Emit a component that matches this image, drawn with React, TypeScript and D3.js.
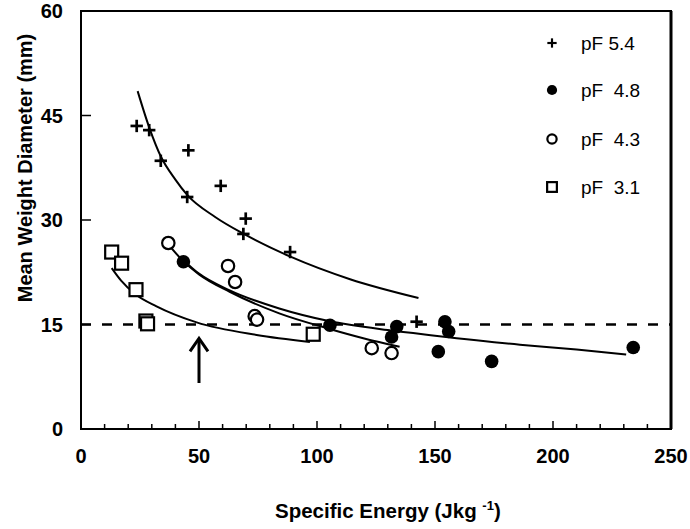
import React from "react";
import * as d3 from "d3";

// ---- data ----
const xTicks = [0, 50, 100, 150, 200, 250];
const yTicks = [0, 15, 30, 45, 60];
const xMinorTicks = d3.range(10, 250, 10);

const pf54X = [23.6, 28.9, 33.8, 45.5, 45.0, 59.2, 69.8, 68.8, 88.6, 142.2];
const pf54Y = [43.5, 42.9, 38.5, 40.0, 33.3, 34.9, 30.2, 28.0, 25.4, 15.4];

const pf48X = [43.4, 105.5, 133.8, 131.6, 154.2, 155.8, 151.4, 174.0, 234.0];
const pf48Y = [24.0, 14.9, 14.7, 13.2, 15.4, 14.0, 11.1, 9.7, 11.7];

const pf43X = [37.0, 62.3, 65.3, 73.6, 74.6, 123.2, 131.6];
const pf43Y = [26.7, 23.4, 21.1, 16.2, 15.7, 11.6, 10.9];

const pf31X = [13.0, 17.2, 23.3, 27.5, 28.2, 98.4];
const pf31Y = [25.4, 23.8, 20.0, 15.5, 15.1, 13.6];

// fitted curves, points
const fit54X = [24, 29, 34, 40, 45, 57, 69, 89, 114, 143];
const fit54Y = [48.5, 43.2, 39.0, 35.8, 33.6, 30.4, 28.0, 24.7, 21.5, 18.8];

const fit48X = [43.5, 50, 63, 84, 105, 130, 150, 186, 210, 231];
const fit48Y = [24.2, 22.3, 19.9, 17.3, 15.5, 14.2, 13.4, 12.1, 11.4, 10.7];

const fit43X = [37.5, 43, 50, 63, 84, 105, 120, 135];
const fit43Y = [26.3, 24.2, 22.2, 19.7, 16.6, 14.4, 13.0, 11.8];

const fit31X = [13, 17, 23.2, 32, 49, 74.4, 97];
const fit31Y = [23.1, 21.3, 19.3, 17.6, 15.3, 13.5, 12.5];

const refLineY = 15;
const arrowX = 50;
const arrowTipY = 13.0;
const arrowBaseY = 6.6;

const legendLabels = ["pF 5.4", "pF  4.8", "pF  4.3", "pF  3.1"];
const legendKinds = ["plus", "dot", "circle", "square"];

// ---- layout ----
const W = 690;
const H = 529;
const left = 81;
const right = 671;
const top = 11;
const bottom = 429;

const x = d3.scaleLinear().domain([0, 250]).range([left, right]);
const y = d3.scaleLinear().domain([0, 60]).range([bottom, top]);

const FONT = "'Liberation Sans', Arial, Helvetica, sans-serif";

function Marker({ kind, cx, cy, s }: { kind: string; cx: number; cy: number; s: number }) {
  if (kind === "plus") {
    const h = 6.2 * s;
    return (
      <g stroke="#000" strokeWidth={2.7 * Math.max(s, 0.8)}>
        <line x1={cx - h} x2={cx + h} y1={cy} y2={cy} />
        <line x1={cx} x2={cx} y1={cy - h} y2={cy + h} />
      </g>
    );
  }
  if (kind === "dot") return <circle cx={cx} cy={cy} r={6.8 * s} fill="#000" />;
  if (kind === "circle")
    return <circle cx={cx} cy={cy} r={6.2 * s} fill="#fff" stroke="#000" strokeWidth={2.2} />;
  const h = 6.5 * s;
  return (
    <rect x={cx - h} y={cy - h} width={2 * h} height={2 * h} fill="#fff" stroke="#000" strokeWidth={2.2} />
  );
}

export default function App() {
  const line = d3
    .line<[number, number]>()
    .x((d) => x(d[0]))
    .y((d) => y(d[1]))
    .curve(d3.curveMonotoneX);

  const fits: [number[], number[]][] = [
    [fit54X, fit54Y],
    [fit48X, fit48Y],
    [fit43X, fit43Y],
    [fit31X, fit31Y],
  ];

  const series: [string, number[], number[]][] = [
    ["square", pf31X, pf31Y],
    ["circle", pf43X, pf43Y],
    ["dot", pf48X, pf48Y],
    ["plus", pf54X, pf54Y],
  ];

  const legendY = [43, 90, 139, 187];

  const ax = x(arrowX);
  const tipY = y(arrowTipY);

  return (
    <svg width={W} height={H} style={{ display: "block", position: "absolute", left: 0, top: 0 }}>
      <rect width={W} height={H} fill="#fff" />

      {/* reference dashed line */}
      <line
        x1={x(0)}
        x2={x(250)}
        y1={y(refLineY)}
        y2={y(refLineY)}
        stroke="#000"
        strokeWidth={2.6}
        strokeDasharray="10,11"
      />

      {/* fitted curves */}
      {fits.map(([xs, ys], i) => (
        <path
          key={i}
          d={line(xs.map((v, j) => [v, ys[j]] as [number, number])) || ""}
          fill="none"
          stroke="#000"
          strokeWidth={2}
        />
      ))}

      {/* points */}
      {series.map(([kind, xs, ys]) =>
        xs.map((v, j) => <Marker key={kind + j} kind={kind} cx={x(v)} cy={y(ys[j])} s={1} />)
      )}

      {/* arrow */}
      <g stroke="#000" strokeWidth={3} fill="none">
        <line x1={ax} x2={ax} y1={tipY + 1} y2={y(arrowBaseY)} />
        <polyline points={`${ax - 9},${tipY + 13} ${ax},${tipY} ${ax + 9},${tipY + 13}`} />
      </g>

      {/* frame */}
      <rect x={left} y={top} width={right - left} height={bottom - top} fill="none" stroke="#000" strokeWidth={2} />
      <line x1={right} x2={right} y1={top} y2={bottom} stroke="#000" strokeWidth={3} />

      {/* x ticks */}
      {xMinorTicks.map((t) => (
        <line key={"mx" + t} x1={x(t)} x2={x(t)} y1={bottom} y2={bottom - (t % 50 === 0 ? 8 : 5)} stroke="#000" strokeWidth={1.5} />
      ))}
      {/* y ticks */}
      {yTicks
        .filter((t) => t > 0 && t < 60)
        .map((t) => (
          <line key={"yt" + t} x1={left} x2={left + 10} y1={y(t)} y2={y(t)} stroke="#000" strokeWidth={1.5} />
        ))}

      {/* tick labels */}
      <g fontFamily={FONT} fontWeight="bold" fontSize={20} fill="#000">
        {xTicks.map((t) => (
          <text key={"xl" + t} x={x(t)} y={463} textAnchor="middle">
            {t}
          </text>
        ))}
        {yTicks.map((t) => (
          <text key={"yl" + t} x={63} y={y(t) + 7} textAnchor="end">
            {t}
          </text>
        ))}
      </g>

      {/* axis titles */}
      <text x={275} y={518} textAnchor="start" fontFamily={FONT} fontWeight="bold" fontSize={20.5}>
        Specific Energy (Jkg <tspan fontSize={13} dy={-8}>-1</tspan>
        <tspan dy={8}>)</tspan>
      </text>
      <text
        transform="translate(32,168) rotate(-90)"
        textAnchor="middle"
        fontFamily={FONT}
        fontWeight="bold"
        fontSize={20}
      >
        Mean Weight Diameter (mm)
      </text>

      {/* legend */}
      {legendLabels.map((lab, i) => (
        <g key={lab}>
          <Marker kind={legendKinds[i]} cx={552} cy={legendY[i]} s={0.75} />
          <text x={581} y={legendY[i] + 7} fontFamily={FONT} fontSize={19} style={{ whiteSpace: "pre" }}>
            {lab}
          </text>
        </g>
      ))}
    </svg>
  );
}
